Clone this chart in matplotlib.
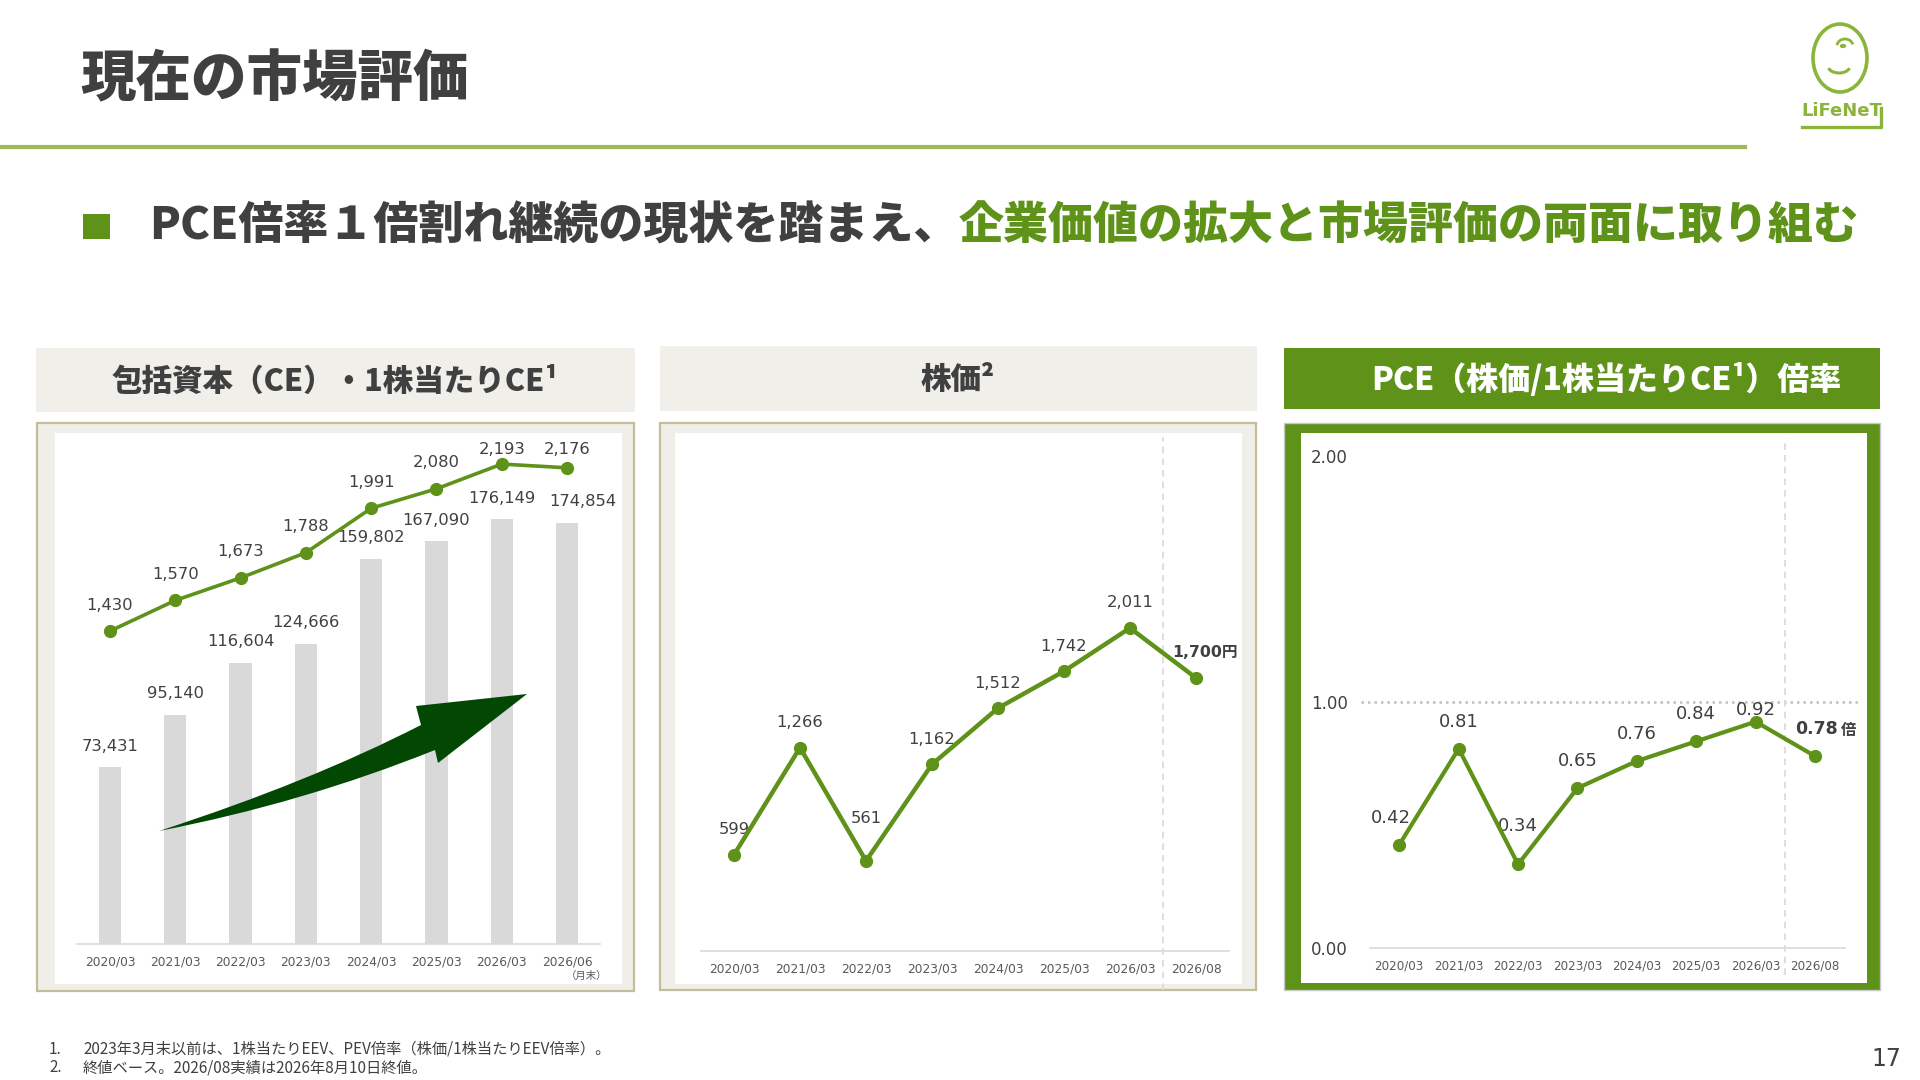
import matplotlib
matplotlib.use("Agg")
import matplotlib.pyplot as plt
from matplotlib.patches import Rectangle, PathPatch, Ellipse, Arc, Circle
from matplotlib.path import Path

plt.rcParams['font.family'] = ['DejaVu Sans', 'Noto Sans CJK JP']
CJK = ['Noto Sans CJK JP', 'DejaVu Sans']

# data
ce_dates = ['2020/03', '2021/03', '2022/03', '2023/03', '2024/03', '2025/03', '2026/03', '2026/06']
ce_total = [73431, 95140, 116604, 124666, 159802, 167090, 176149, 174854]
ce_per_share = [1430, 1570, 1673, 1788, 1991, 2080, 2193, 2176]

px_dates = ['2020/03', '2021/03', '2022/03', '2023/03', '2024/03', '2025/03', '2026/03', '2026/08']
price = [599, 1266, 561, 1162, 1512, 1742, 2011, 1700]
pce = [0.42, 0.81, 0.34, 0.65, 0.76, 0.84, 0.92, 0.78]

GREEN = '#5e9219'
DARK = '#404040'
TICK = '#595959'
PANEL_BG = '#efeee9'
TAN = '#c4bd9a'
HEAVY = 'heavy'

W, H = 1920, 1080
fig = plt.figure(figsize=(19.2, 10.8), dpi=100)
fig.patch.set_facecolor('white')


def fx(x):
    return x / W


def fy(y):
    return 1 - y / H


def rect(x0, y0, x1, y1, **kw):
    r = Rectangle((fx(x0), fy(y1)), fx(x1) - fx(x0), fy(y0) - fy(y1), transform=fig.transFigure,
                  zorder=-5, **kw)
    fig.add_artist(r)
    return r


def px_axes(left, top, right, bottom):
    return fig.add_axes([fx(left), fy(bottom), (right - left) / W, (bottom - top) / H])


# ---- page header ----
fig.text(fx(80), fy(80), "現在の市場評価", fontsize=40, fontweight=HEAVY, color=DARK,
         va='center', ha='left', family=CJK)
fig.add_artist(plt.Line2D([0, fx(1745)], [fy(147), fy(147)], transform=fig.transFigure,
                          color='#9bbb59', lw=3))

# logo (simplified)
logo_c = '#8cb43a'
fig.add_artist(Ellipse((fx(1840), fy(58)), 54 / W, 68 / H, transform=fig.transFigure,
                       fill=False, ec=logo_c, lw=2.6))
fig.add_artist(Arc((fx(1845), fy(46)), 16 / W, 14 / H, theta1=20, theta2=170,
                   transform=fig.transFigure, color=logo_c, lw=2))
fig.add_artist(Circle((fx(1843), fy(46)), 2.5 / W, transform=fig.transFigure, color=logo_c))
fig.add_artist(Arc((fx(1839), fy(66)), 22 / W, 14 / H, theta1=200, theta2=340,
                   transform=fig.transFigure, color=logo_c, lw=2.2))
fig.text(fx(1842), fy(111), "LiFeNeT", fontsize=13, fontweight='bold', color=logo_c,
         ha='center', va='center', family='DejaVu Sans')
fig.add_artist(plt.Line2D([fx(1802), fx(1881), fx(1881)], [fy(127), fy(127), fy(108)],
                          transform=fig.transFigure, color=logo_c, lw=2.4))

# ---- subtitle ----
rect(83, 214, 110, 239, facecolor=GREEN, edgecolor='none')
t1 = fig.text(fx(149), fy(226), "PCE倍率１倍割れ継続の現状を踏まえ、", fontsize=32.4, fontweight=HEAVY,
              color=DARK, va='center', ha='left', family=CJK)
bb = t1.get_window_extent(renderer=fig.canvas.get_renderer())
fig.text(bb.x1 / W, fy(226), "企業価値の拡大と市場評価の両面に取り組む", fontsize=32.4, fontweight=HEAVY,
         color=GREEN, va='center', ha='left', family=CJK)

# ---- panel frames ----
rect(36, 348, 635, 412, facecolor='#f0efea', edgecolor='none')
fig.text(fx(335), fy(381), "包括資本（CE）・1株当たりCE¹", fontsize=22, fontweight=HEAVY, color=DARK,
         ha='center', va='center', family=CJK)
rect(37, 423, 634, 991, facecolor=PANEL_BG, edgecolor=TAN, lw=1.6)
rect(55, 433, 622, 984, facecolor='white', edgecolor='none')

rect(660, 346, 1257, 411, facecolor='#f0efea', edgecolor='none')
fig.text(fx(958), fy(380), "株価²", fontsize=22, fontweight=HEAVY, color=DARK,
         ha='center', va='center', family=CJK)
rect(660, 423, 1256, 990, facecolor=PANEL_BG, edgecolor=TAN, lw=1.6)
rect(675, 433, 1242, 984, facecolor='white', edgecolor='none')

rect(1284, 348, 1880, 409, facecolor=GREEN, edgecolor='none')
fig.text(fx(1606), fy(380), "PCE（株価/1株当たりCE¹）倍率", fontsize=23, fontweight=HEAVY, color='white',
         ha='center', va='center', family=CJK)
rect(1284, 423, 1880, 990, facecolor=GREEN, edgecolor='#c8c8c8', lw=1)
rect(1301, 433, 1867, 983, facecolor='white', edgecolor='none')


def clean(ax):
    ax.set_facecolor('none')
    for s in ['top', 'right', 'left']:
        ax.spines[s].set_visible(False)
    ax.spines['bottom'].set_color('#d9d9d9')
    ax.spines['bottom'].set_linewidth(1.2)
    ax.tick_params(axis='x', length=0, pad=8, labelsize=8.8, labelcolor=TICK)
    ax.set_yticks([])


# ---- panel 1: CE bars + CE per share line ----
ax1 = px_axes(77.3, 433, 599.7, 944)
x1 = list(range(len(ce_dates)))
ax1.bar(x1, ce_total, width=0.34, color='#d9d9d9', zorder=1)
ax1.set_xlim(-0.5, 7.5)
ax1.set_ylim(0, 212000)
clean(ax1)
ax1.set_xticks(x1)
ax1.set_xticklabels(ce_dates)
for xi, v in zip(x1, ce_total):
    dx = 16 if xi == 7 else 0
    ax1.annotate(f"{v:,}", (xi, v), xytext=(dx, 21), textcoords='offset pixels',
                 ha='center', va='center', fontsize=11.8, color=DARK)
ax1.text(7.3, -0.062, "（月末）", transform=ax1.get_xaxis_transform(), fontsize=7.5,
         color=TICK, ha='center', va='center', family=CJK)

ax1b = ax1.twinx()
ax1b.set_ylim(0, 2335)
ax1b.set_facecolor('none')
ax1b.axis('off')
ax1b.plot(x1, ce_per_share, color=GREEN, lw=2.6, marker='o', ms=8.5, zorder=5)
for xi, v in zip(x1, ce_per_share):
    ypix = ax1b.transData.transform((xi, v))[1]
    top_pix = fig.bbox.height - 450
    off = min(26, top_pix - ypix)
    ax1b.annotate(f"{v:,}", (xi, v), xytext=(0, off), textcoords='offset pixels',
                  ha='center', va='center', fontsize=11.8, color=DARK)

# green trend arrow
verts = [(159, 831), (310, 782), (421, 725), (416, 706), (527, 694), (438, 763), (435, 750),
         (303, 803), (159, 831), (159, 831)]
codes = [Path.MOVETO, Path.CURVE3, Path.CURVE3, Path.LINETO, Path.LINETO, Path.LINETO, Path.LINETO,
         Path.CURVE3, Path.CURVE3, Path.CLOSEPOLY]
arrow = PathPatch(Path([(fx(a), fy(b)) for a, b in verts], codes), transform=fig.transFigure,
                  facecolor='#024802', edgecolor='none', zorder=2)
fig.add_artist(arrow)

# ---- panel 2: share price ----
ax2 = px_axes(701, 433, 1229, 951)
x2 = list(range(len(px_dates)))
ax2.set_xlim(-0.5, 7.5)
ax2.set_ylim(0, 3225)
clean(ax2)
ax2.set_xticks(x2)
ax2.set_xticklabels(px_dates)
ax2.axvline(6.5, ymin=-0.075, ymax=0.992, color='#d9d9d9', lw=1.2, ls=(0, (4, 3)), clip_on=False)
ax2.plot(x2, price, color=GREEN, lw=3.2, marker='o', ms=8.5, zorder=5)
for i, v in enumerate(price[:-1]):
    off = 42 if i == 2 else 25
    ax2.annotate(f"{v:,}", (i, v), xytext=(0, off), textcoords='offset pixels',
                 ha='center', va='center', fontsize=11.8, color=DARK)
ax2.annotate(f"{price[-1]:,}円", (7, price[-1]), xytext=(-24, 25), textcoords='offset pixels',
             ha='left', va='center', fontsize=11.3, fontweight='bold', color=DARK)

# ---- panel 3: PCE ratio ----
ax3 = px_axes(1369.6, 433, 1844.7, 948)
ax3.set_xlim(-0.5, 7.5)
ax3.set_ylim(0, 2.0935)
clean(ax3)
ax3.set_xticks(x2)
ax3.set_xticklabels(px_dates, fontsize=8.6)
ax3.set_yticks([0, 1, 2])
ax3.set_yticklabels(["0.00", "1.00", "2.00"])
ax3.tick_params(axis='y', length=0, pad=15.5, labelsize=12, labelcolor=DARK)
ax3.axhline(1.0, xmin=-0.018, xmax=1.032, color='#bfbfbf', lw=1.8, ls=(0, (1, 1.6)), clip_on=False)
ax3.axvline(6.5, ymin=-0.053, ymax=0.991, color='#d9d9d9', lw=1.2, ls=(0, (4, 3)), clip_on=False)
ax3.plot(x2, pce, color=GREEN, lw=3, marker='o', ms=8.5, zorder=5)
for i, v in enumerate(pce[:-1]):
    off = {2: 38, 6: 12}.get(i, 27)
    dx = -8 if i == 0 else 0
    ax3.annotate(f"{v:.2f}", (i, v), xytext=(dx, off), textcoords='offset pixels',
                 ha='center', va='center', fontsize=13, color=DARK)
ax3.annotate(f"{pce[-1]:.2f}", (7, pce[-1]), xytext=(-20, 27), textcoords='offset pixels',
             ha='left', va='center', fontsize=12.5, fontweight='bold', color=DARK)
ax3.annotate("倍", (7, pce[-1]), xytext=(26, 26), textcoords='offset pixels',
             ha='left', va='center', fontsize=11, fontweight='bold', color=DARK, family=CJK)

# ---- footnotes ----
fig.text(fx(49), fy(1049), "1.", fontsize=11, color=DARK, va='center', family=CJK)
fig.text(fx(83), fy(1049), "2023年3月末以前は、1株当たりEEV、PEV倍率（株価/1株当たりEEV倍率）。",
         fontsize=11, color=DARK, va='center', family=CJK)
fig.text(fx(49), fy(1068), "2.", fontsize=11, color=DARK, va='center', family=CJK)
fig.text(fx(83), fy(1068), "終値ベース。2026/08実績は2026年8月10日終値。",
         fontsize=11, color=DARK, va='center', family=CJK)
fig.text(fx(1886), fy(1059), "17", fontsize=17, color=DARK, ha='center', va='center')

fig.savefig("out.png", dpi=100)
plt.close()
